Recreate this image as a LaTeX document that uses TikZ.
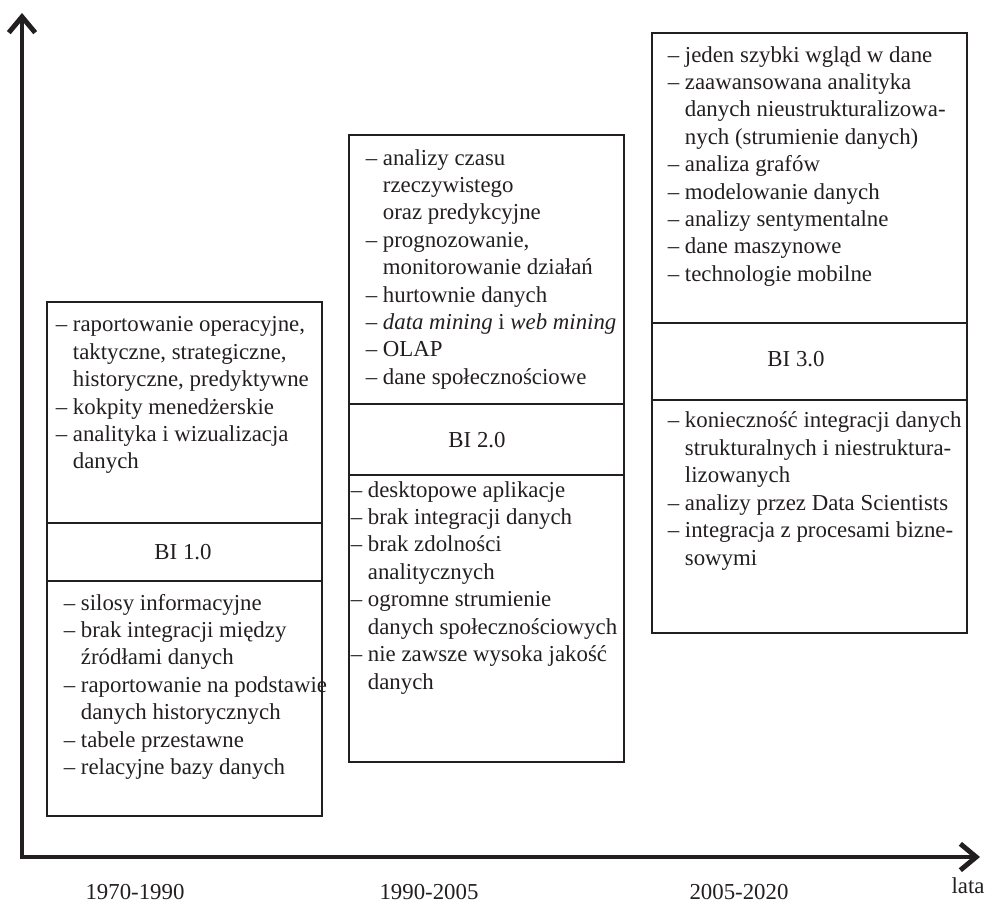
\documentclass[tikz,border=0pt]{standalone}
\usepackage{fontspec}
\setmainfont{Liberation Serif}
\usetikzlibrary{arrows.meta}
\definecolor{ink}{RGB}{35,31,32}
\newcommand{\indt}{\hphantom{– }}

\begin{document}
\begin{tikzpicture}[x=0.02cm, y=-0.02cm, color=ink, line width=0.9pt,
  list/.style={anchor=base west, align=left, inner sep=0pt, font=\fontsize{13}{15.6}\selectfont},
  era/.style={inner sep=0pt, font=\fontsize{13}{15.6}\selectfont},
  axis/.style={line width=2.8pt, -{Straight Barb[length=9pt, width=15pt, line width=2.8pt]}}]
  \useasboundingbox (0, 0) rectangle (986, 901);

  % axes
  \coordinate (origin) at (22, 857);
  \coordinate (ytip) at (22, 13);
  \coordinate (xtip) at (980, 857);
  \draw[axis] ([yshift=-1.4pt]origin) -- (ytip);
  \draw[axis] ([xshift=-1.4pt]origin) -- (xtip);

  % BI 1.0 (list nodes sit on the baseline of their last line)
  \draw (47, 302) rectangle (322, 816);
  \draw (47, 523) -- (322, 523);
  \draw (47, 581) -- (322, 581);
  \node[list] (good1) at (55, 469) {– raportowanie operacyjne,\\
    \indt taktyczne, strategiczne,\\
    \indt historyczne, predyktywne\\
    – kokpity menedżerskie\\
    – analityka i wizualizacja\\
    \indt danych};
  \node[era] (bi1) at (183, 552) {BI 1.0};
  \node[list] (bad1) at (63, 774.5) {– silosy informacyjne\\
    – brak integracji między\\
    \indt źródłami danych\\
    – raportowanie na podstawie\\
    \indt danych historycznych\\
    – tabele przestawne\\
    – relacyjne bazy danych};

  % BI 2.0
  \draw (349, 135) rectangle (624, 762);
  \draw (349, 404) -- (624, 404);
  \draw (349, 475) -- (624, 475);
  \node[list] (good2) at (365, 384.3) {– analizy czasu\\
    \indt rzeczywistego\\
    \indt oraz predykcyjne\\
    – prognozowanie,\\
    \indt monitorowanie działań\\
    – hurtownie danych\\
    – \textit{data mining} i \textit{web mining}\\
    – OLAP\\
    – dane społecznościowe};
  \node[era] (bi2) at (477, 440) {BI 2.0};
  \node[list] (bad2) at (350, 689) {– desktopowe aplikacje\\
    – brak integracji danych\\
    – brak zdolności\\
    \indt analitycznych\\
    – ogromne strumienie\\
    \indt danych społecznościowych\\
    – nie zawsze wysoka jakość\\
    \indt danych};

  % BI 3.0
  \draw (652, 33) rectangle (967, 633);
  \draw (652, 323) -- (967, 323);
  \draw (652, 400) -- (967, 400);
  \node[list] (good3) at (667, 281.3) {– jeden szybki wgląd w dane\\
    – zaawansowana analityka\\
    \indt danych nieustrukturalizowa-\\
    \indt nych (strumienie danych)\\
    – analiza grafów\\
    – modelowanie danych\\
    – analizy sentymentalne\\
    – dane maszynowe\\
    – technologie mobilne};
  \node[era] (bi3) at (796, 359) {BI 3.0};
  \node[list] (bad3) at (667, 565) {– konieczność integracji danych\\
    \indt strukturalnych i niestruktura-\\
    \indt lizowanych\\
    – analizy przez Data Scientists\\
    – integracja z procesami bizne-\\
    \indt sowymi};

  % time axis labels
  \node[era] (t1) at (135, 892) {1970-1990};
  \node[era] (t2) at (429, 892) {1990-2005};
  \node[era] (t3) at (739, 892) {2005-2020};
  \node[era] (lata) at (968, 886) {lata};
\end{tikzpicture}
\end{document}
